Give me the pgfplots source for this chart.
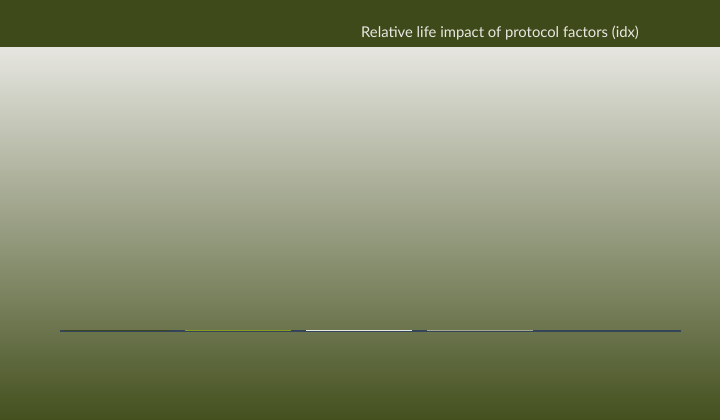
\documentclass[border=0pt]{standalone}
\usepackage{pgfplots}
\pgfplotsset{compat=1.18}
\usepackage{fontspec}
\setmainfont{Lato}

\definecolor{band}{HTML}{3F4A1A}
\definecolor{bgtop}{HTML}{E6E6E0}
\definecolor{bgbot}{HTML}{44501E}
\definecolor{slate}{HTML}{344558}
\definecolor{darkolive}{HTML}{3C4424}
\definecolor{limeolive}{HTML}{8A9A1E}
\definecolor{offwhite}{HTML}{E8E8E2}
\definecolor{sage}{HTML}{A6A98E}

\begin{document}
\begin{tikzpicture}
% background
\shade[top color=bgtop, bottom color=bgbot] (0pt,0pt) rectangle (720pt,373pt);
\fill[band] (0pt,373pt) rectangle (720pt,420pt);
\node[text=offwhite, font=\fontsize{14.8}{17}\selectfont, anchor=center, inner sep=0pt]
  at (500pt,387pt) {Relative life impact of protocol factors (idx)};

\begin{axis}[
  at={(60pt,84pt)}, anchor=south west,
  scale only axis, width=621pt, height=200pt,
  xmin=-0.471, xmax=4.661,
  ymin=-5, ymax=195,
  hide axis, clip=false,
  ybar, bar width=106pt, bar shift=0pt,
]
  % baseline
  \addplot[sharp plot, slate, line width=2pt, forget plot]
    coordinates {(-0.471,0) (4.661,0)};
  \addplot[fill=darkolive, draw=none] coordinates {(0,1)};
  \addplot[fill=limeolive, draw=none] coordinates {(1,1)};
  \addplot[fill=offwhite, draw=none] coordinates {(2,1)};
  \addplot[fill=sage, draw=none] coordinates {(3,1)};
  \addplot[fill=slate, draw=none] coordinates {(4,1)};
\end{axis}
\end{tikzpicture}
\end{document}
